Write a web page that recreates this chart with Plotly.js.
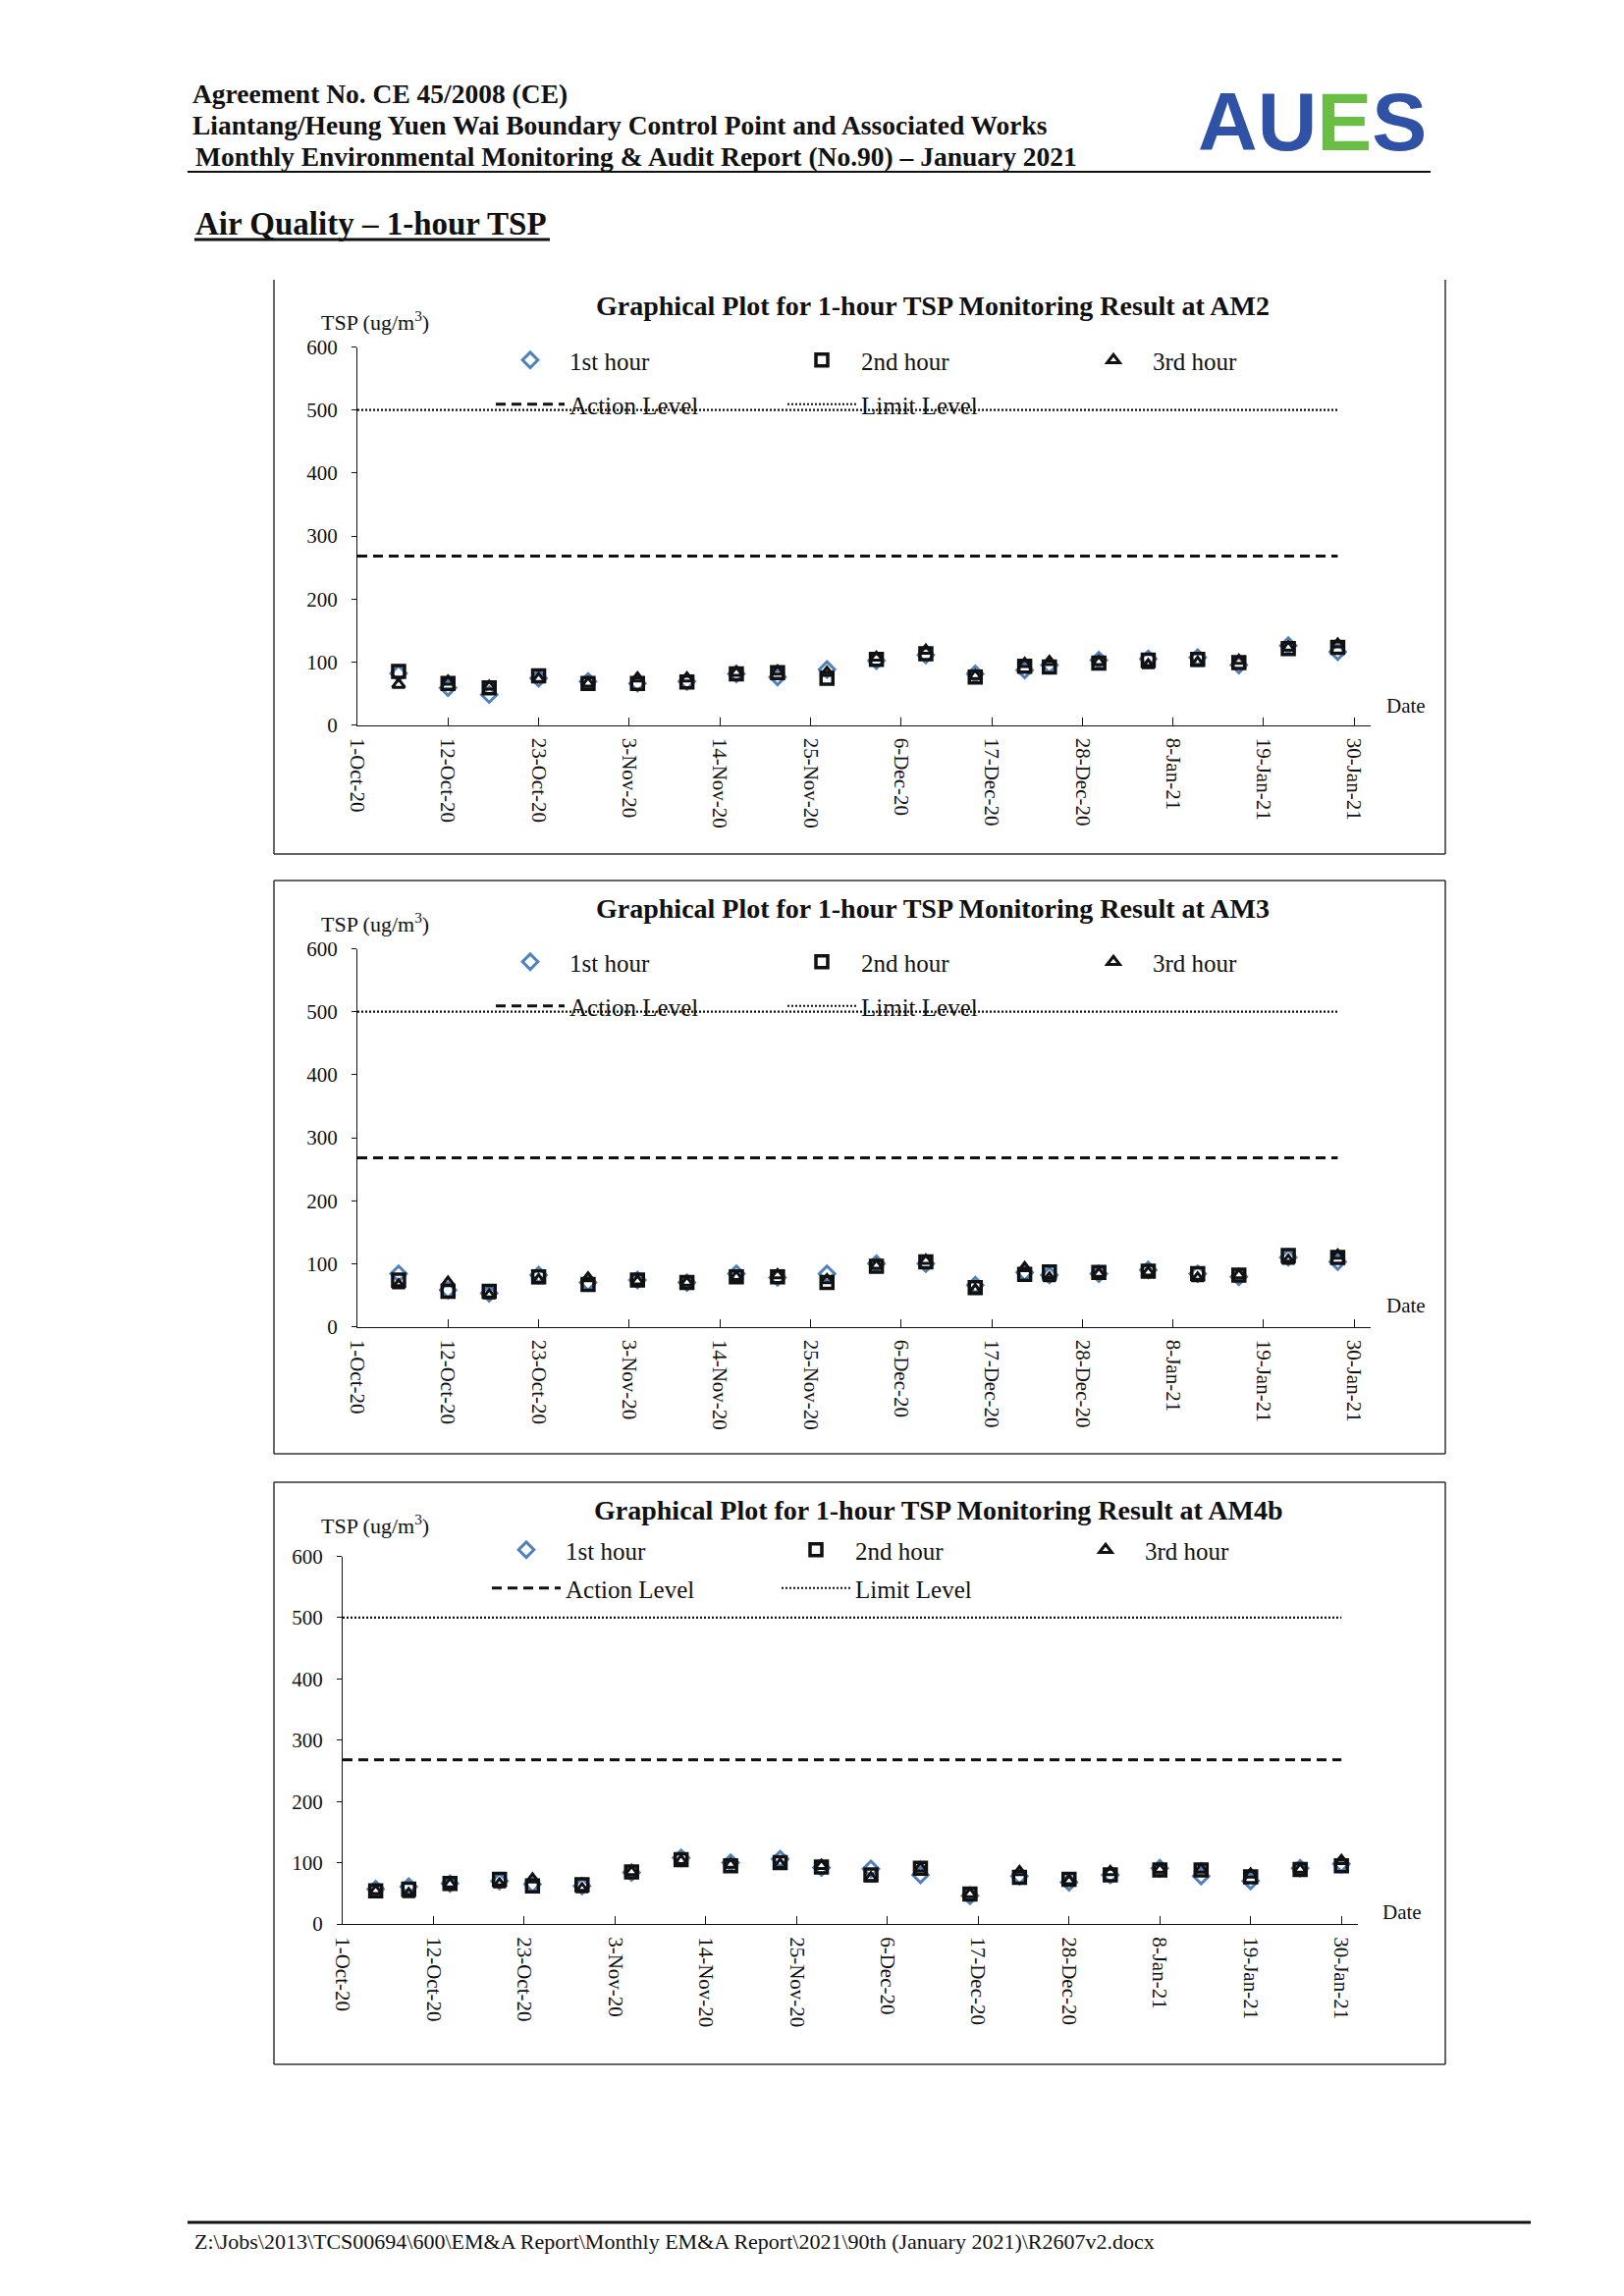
<!DOCTYPE html>
<html>
<head>
<meta charset="utf-8">
<script src="https://cdn.plot.ly/plotly-3.0.1.min.js"></script>
<style>
html,body{margin:0;padding:0;background:#ffffff;}
#page{width:1654px;height:2339px;}
</style>
</head>
<body>
<div id="page"></div>
<script>
// ---------------- DATA ----------------
const datesAM2 = ['2020-10-06','2020-10-12','2020-10-17','2020-10-23','2020-10-29','2020-11-04','2020-11-10','2020-11-16','2020-11-21','2020-11-27','2020-12-03','2020-12-09','2020-12-15','2020-12-21','2020-12-24','2020-12-30','2021-01-05','2021-01-11','2021-01-16','2021-01-22','2021-01-28'];
const am2Hour1 = [82, 59, 48, 74, 69, 66, 69, 81, 76, 88, 102, 111, 81, 87, 95, 103, 105, 107, 95, 126, 116];
const am2Hour2 = [85, 66, 59, 78, 66, 66, 68, 81, 83, 74, 104, 113, 76, 93, 92, 98, 103, 104, 99, 121, 123];
const am2Hour3 = [64, 69, 61, 73, 66, 74, 74, 83, 85, 83, 107, 118, 78, 97, 100, 100, 95, 99, 102, 123, 128];

const datesAM3 = ['2020-10-06','2020-10-12','2020-10-17','2020-10-23','2020-10-29','2020-11-04','2020-11-10','2020-11-16','2020-11-21','2020-11-27','2020-12-03','2020-12-09','2020-12-15','2020-12-21','2020-12-24','2020-12-30','2021-01-05','2021-01-11','2021-01-16','2021-01-22','2021-01-28'];
const am3Hour1 = [84, 58, 53, 82, 70, 74, 70, 84, 78, 84, 100, 100, 66, 86, 82, 84, 90, 84, 79, 110, 103];
const am3Hour2 = [74, 56, 56, 79, 67, 74, 70, 79, 79, 70, 96, 103, 62, 83, 87, 86, 88, 84, 82, 113, 110];
const am3Hour3 = [66, 70, 50, 74, 77, 72, 70, 79, 82, 74, 97, 105, 58, 93, 77, 84, 86, 77, 82, 105, 113];

const datesAM4b = ['2020-10-05','2020-10-09','2020-10-14','2020-10-20','2020-10-24','2020-10-30','2020-11-05','2020-11-11','2020-11-17','2020-11-23','2020-11-28','2020-12-04','2020-12-10','2020-12-16','2020-12-22','2020-12-28','2021-01-02','2021-01-08','2021-01-13','2021-01-19','2021-01-25','2021-01-30'];
const am4bHour1 = [57, 61, 66, 70, 65, 62, 84, 108, 100, 106, 92, 90, 80, 46, 78, 68, 80, 91, 78, 70, 91, 98];
const am4bHour2 = [54, 57, 66, 73, 62, 64, 85, 105, 95, 100, 93, 80, 91, 49, 76, 73, 80, 88, 88, 77, 89, 95];
const am4bHour3 = [54, 49, 65, 65, 73, 57, 85, 103, 97, 97, 95, 75, 91, 49, 85, 70, 85, 89, 89, 81, 89, 103];

const actionLevel = 268;
const limitLevel = 500;

const tickDates = ['2020-10-01','2020-10-12','2020-10-23','2020-11-03','2020-11-14','2020-11-25','2020-12-06','2020-12-17','2020-12-28','2021-01-08','2021-01-19','2021-01-30'];
const tickLabels = ['1-Oct-20','12-Oct-20','23-Oct-20','3-Nov-20','14-Nov-20','25-Nov-20','6-Dec-20','17-Dec-20','28-Dec-20','8-Jan-21','19-Jan-21','30-Jan-21'];
const yTicks = [0, 100, 200, 300, 400, 500, 600];
const seriesNames = ['1st hour', '2nd hour', '3rd hour', 'Action Level', 'Limit Level'];
const axisStart = '2020-10-01';
const axisEnd = '2021-02-01';

// ---------------- LAYOUT HELPERS ----------------
const W = 1654, H = 2339;
const px = x => x / W;
const py = y => 1 - y / H;
const SERIF = 'Liberation Serif, Times New Roman, serif';

const charts = [
  {station:'AM2', dates:datesAM2, h:[am2Hour1, am2Hour2, am2Hour3],
   box:{l:279, r:1472, t:null, b:870}, xd:[364,1396], yd:[738.5,353.5],
   titleX:950, titleY:312, tspY:327, dateX:1410, dateY:719, legX:500, leg1Y:367, leg2Y:412, entry:212},
  {station:'AM3', dates:datesAM3, h:[am3Hour1, am3Hour2, am3Hour3],
   box:{l:279, r:1472, t:897, b:1481}, xd:[364,1396], yd:[1351.5,966.5],
   titleX:950, titleY:925, tspY:940, dateX:1410, dateY:1330, legX:500, leg1Y:980, leg2Y:1025, entry:212},
  {station:'AM4b', dates:datesAM4b, h:[am4bHour1, am4bHour2, am4bHour3],
   box:{l:279, r:1472, t:1510, b:2103}, xd:[349,1383], yd:[1960,1585.5],
   titleX:956, titleY:1538, tspY:1553, dateX:1406, dateY:1948, legX:496, leg1Y:1579, leg2Y:1618, entry:210}
];

const markerStyles = [
  {symbol:'diamond-open', color:'#4F81BD', size:12, line:{width:3, color:'#4F81BD'}},
  {symbol:'square-open', color:'#111111', size:12, line:{width:3.5, color:'#111111'}},
  {symbol:'triangle-up-open', color:'#111111', size:11, line:{width:3, color:'#111111'}}
];

const traces = [];
const layout = {
  width: W, height: H, autosize: false,
  margin: {l:0, r:0, t:0, b:0},
  paper_bgcolor: '#ffffff', plot_bgcolor: 'rgba(0,0,0,0)',
  showlegend: true,
  annotations: [], shapes: []
};

charts.forEach((c, i) => {
  const n = i + 1;
  const xa = n === 1 ? 'x' : 'x' + n;
  const ya = n === 1 ? 'y' : 'y' + n;
  const legA = n === 1 ? 'legend' : 'legend' + (2 * n - 1);
  const legB = 'legend' + (2 * n);

  for (let k = 0; k < 3; k++) {
    traces.push({
      type:'scatter', mode:'markers', name:seriesNames[k],
      x:c.dates, y:c.h[k], xaxis:xa, yaxis:ya, legend:legA,
      marker:markerStyles[k], cliponaxis:false, hoverinfo:'skip'
    });
  }
  const lastDate = c.dates[c.dates.length - 1];
  traces.push({
    type:'scatter', mode:'lines', name:seriesNames[3],
    x:[axisStart, lastDate], y:[actionLevel, actionLevel], xaxis:xa, yaxis:ya, legend:legB,
    line:{color:'#111111', width:3, dash:'10px,6px'}, hoverinfo:'skip'
  });
  traces.push({
    type:'scatter', mode:'lines', name:seriesNames[4],
    x:[axisStart, lastDate], y:[limitLevel, limitLevel], xaxis:xa, yaxis:ya, legend:legB,
    line:{color:'#111111', width:2.2, dash:'2px,2px'}, hoverinfo:'skip'
  });

  const xKey = n === 1 ? 'xaxis' : 'xaxis' + n;
  const yKey = n === 1 ? 'yaxis' : 'yaxis' + n;
  layout[xKey] = {
    type:'date', domain:[px(c.xd[0]), px(c.xd[1])], range:[axisStart, axisEnd],
    anchor: ya, showgrid:false, zeroline:false,
    showline:true, linecolor:'#111111', linewidth:1,
    ticks:'inside', ticklen:8, tickcolor:'#111111', tickwidth:1,
    tickmode:'array', tickvals:tickDates, ticktext:tickLabels, tickangle:90,
    ticklabelstandoff:8,
    tickfont:{family:SERIF, size:21, color:'#111111'}, fixedrange:true
  };
  layout[yKey] = {
    domain:[py(c.yd[0]), py(c.yd[1])], range:[0, 600],
    anchor: xa, showgrid:false, zeroline:false,
    showline:true, linecolor:'#111111', linewidth:1,
    ticks:'outside', ticklen:5, tickcolor:'#111111', tickwidth:1,
    tickmode:'array', tickvals:yTicks,
    ticklabelstandoff:10,
    tickfont:{family:SERIF, size:21, color:'#111111'}, fixedrange:true
  };

  const legCommon = {
    orientation:'h', xref:'paper', yref:'paper', xanchor:'left', yanchor:'middle',
    bgcolor:'rgba(0,0,0,0)', borderwidth:0, itemwidth:70,
    entrywidth:c.entry, entrywidthmode:'pixels', traceorder:'normal',
    font:{family:SERIF, size:25, color:'#111111'}, itemclick:false, itemdoubleclick:false
  };
  layout[legA] = Object.assign({}, legCommon, {x:px(c.legX), y:py(c.leg1Y)});
  layout[legB] = Object.assign({}, legCommon, {x:px(c.legX), y:py(c.leg2Y)});

  layout.annotations.push({
    xref:'paper', yref:'paper', x:px(c.titleX), y:py(c.titleY), xanchor:'center', yanchor:'middle',
    text:'<b>Graphical Plot for 1-hour TSP Monitoring Result at ' + c.station + '</b>',
    showarrow:false, font:{family:SERIF, size:28, color:'#111111'}
  });
  layout.annotations.push({
    xref:'paper', yref:'paper', x:px(325), y:py(c.tspY), xanchor:'left', yanchor:'middle',
    text:'TSP (ug/m<sup>3</sup>)', showarrow:false, font:{family:SERIF, size:22, color:'#111111'}
  });
  layout.annotations.push({
    xref:'paper', yref:'paper', x:px(c.dateX), y:py(c.dateY), xanchor:'left', yanchor:'middle',
    text:'Date', showarrow:false, font:{family:SERIF, size:21, color:'#111111'}
  });

  const bc = '#333333', bw = 1.5;
  const topY = c.box.t === null ? 285 : c.box.t;
  layout.shapes.push({type:'line', xref:'paper', yref:'paper', x0:px(c.box.l), x1:px(c.box.l), y0:py(topY), y1:py(c.box.b), line:{color:bc, width:bw}});
  layout.shapes.push({type:'line', xref:'paper', yref:'paper', x0:px(c.box.r), x1:px(c.box.r), y0:py(topY), y1:py(c.box.b), line:{color:bc, width:bw}});
  layout.shapes.push({type:'line', xref:'paper', yref:'paper', x0:px(c.box.l), x1:px(c.box.r), y0:py(c.box.b), y1:py(c.box.b), line:{color:bc, width:bw}});
  if (c.box.t !== null) {
    layout.shapes.push({type:'line', xref:'paper', yref:'paper', x0:px(c.box.l), x1:px(c.box.r), y0:py(c.box.t), y1:py(c.box.t), line:{color:bc, width:bw}});
  }
});

// ---------------- PAGE HEADER / FOOTER ----------------
const headerLines = [
  {text:'Agreement No. CE 45/2008 (CE)', x:194, y:96},
  {text:'Liantang/Heung Yuen Wai Boundary Control Point and Associated Works', x:194, y:128},
  {text:'Monthly Environmental Monitoring &amp; Audit Report (No.90) \u2013 January 2021', x:197, y:160}
];
headerLines.forEach(h => {
  layout.annotations.push({
    xref:'paper', yref:'paper', x:px(h.x), y:py(h.y), xanchor:'left', yanchor:'middle',
    text:'<b>' + h.text + '</b>', showarrow:false, font:{family:SERIF, size:27.5, color:'#111111'}
  });
});
layout.annotations.push({
  xref:'paper', yref:'paper', x:px(1336), y:py(124), xanchor:'center', yanchor:'middle',
  text:'<b><span style="color:#2F52A6">AU</span><span style="color:#6BBE45">E</span><span style="color:#2F52A6">S</span></b>',
  showarrow:false, font:{family:'Liberation Sans, Arial, sans-serif', size:84, color:'#2F52A6'}
});
layout.shapes.push({type:'line', xref:'paper', yref:'paper', x0:px(191), x1:px(1457), y0:py(175), y1:py(175), line:{color:'#111111', width:2}});

layout.annotations.push({
  xref:'paper', yref:'paper', x:px(197), y:py(228), xanchor:'left', yanchor:'middle',
  text:'<b>Air Quality \u2013 1-hour TSP</b>', showarrow:false, font:{family:SERIF, size:33, color:'#111111'}
});
layout.shapes.push({type:'line', xref:'paper', yref:'paper', x0:px(198), x1:px(560), y0:py(244), y1:py(244), line:{color:'#111111', width:3}});

layout.shapes.push({type:'line', xref:'paper', yref:'paper', x0:px(191), x1:px(1559), y0:py(2264), y1:py(2264), line:{color:'#111111', width:3}});
layout.annotations.push({
  xref:'paper', yref:'paper', x:px(196), y:py(2283), xanchor:'left', yanchor:'middle',
  text:'Z:\\Jobs\\2013\\TCS00694\\600\\EM&amp;A Report\\Monthly EM&amp;A Report\\2021\\90th (January 2021)\\R2607v2.docx',
  showarrow:false, font:{family:SERIF, size:22, color:'#111111'}
});

Plotly.newPlot('page', traces, layout, {displayModeBar:false, staticPlot:true});
</script>
</body>
</html>
